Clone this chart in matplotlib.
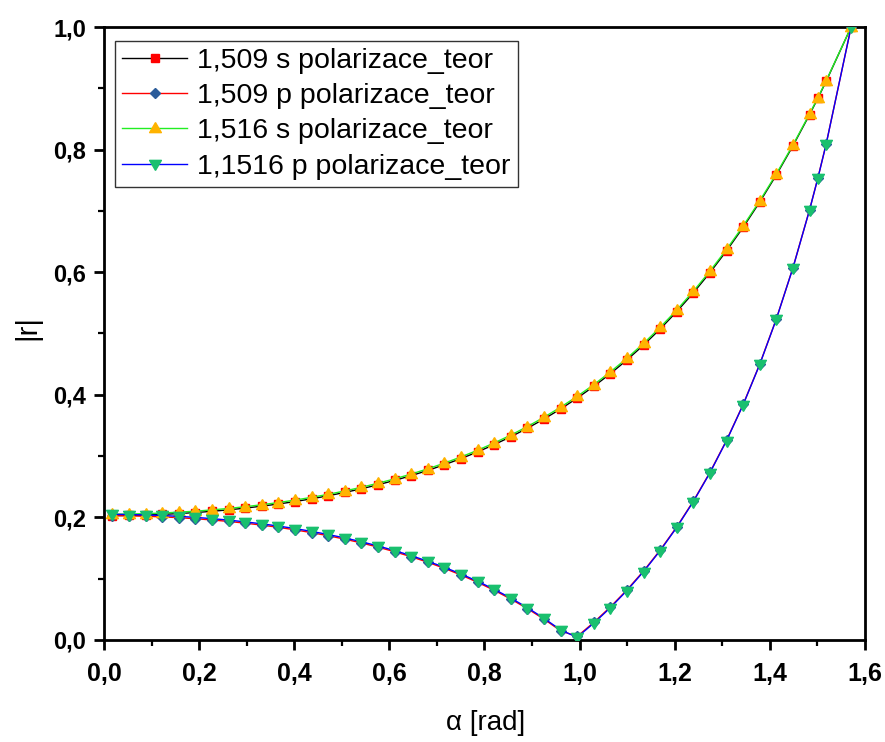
import matplotlib
matplotlib.use("Agg")
import matplotlib.pyplot as plt
from matplotlib.ticker import MultipleLocator, FuncFormatter

# incidence angle [rad]
alpha = [0.0175, 0.0524, 0.0873, 0.1222, 0.1571, 0.1920, 0.2269, 0.2618, 0.2967, 0.3316,
         0.3665, 0.4014, 0.4363, 0.4712, 0.5061, 0.5411, 0.5760, 0.6109, 0.6458, 0.6807,
         0.7156, 0.7505, 0.7854, 0.8203, 0.8552, 0.8901, 0.9250, 0.9599, 0.9948, 1.0297,
         1.0647, 1.0996, 1.1345, 1.1694, 1.2043, 1.2392, 1.2741, 1.3090, 1.3439, 1.3788,
         1.4137, 1.4486, 1.4835, 1.5010, 1.5184, 1.5708]

s_1509 = [0.2029, 0.2032, 0.2039, 0.2049, 0.2062, 0.2079, 0.2099, 0.2123, 0.2151, 0.2183,
          0.2218, 0.2258, 0.2303, 0.2352, 0.2407, 0.2466, 0.2532, 0.2603, 0.2681, 0.2766,
          0.2859, 0.2959, 0.3068, 0.3187, 0.3315, 0.3454, 0.3605, 0.3768, 0.3946, 0.4137,
          0.4345, 0.4569, 0.4812, 0.5074, 0.5358, 0.5664, 0.5994, 0.6350, 0.6733, 0.7146,
          0.7588, 0.8063, 0.8572, 0.8839, 0.9116, 1.0]

p_1509 = [0.2028, 0.2025, 0.2018, 0.2009, 0.1995, 0.1978, 0.1958, 0.1934, 0.1906, 0.1874,
          0.1838, 0.1797, 0.1751, 0.1701, 0.1645, 0.1583, 0.1515, 0.1440, 0.1358, 0.1268,
          0.1169, 0.1060, 0.0941, 0.0811, 0.0668, 0.0512, 0.0340, 0.0151, 0.0057, 0.0286,
          0.0539, 0.0818, 0.1126, 0.1467, 0.1846, 0.2267, 0.2736, 0.3260, 0.3845, 0.4502,
          0.5241, 0.6075, 0.7020, 0.7539, 0.8094, 1.0]

s_1516 = [0.2051, 0.2055, 0.2061, 0.2071, 0.2085, 0.2101, 0.2122, 0.2146, 0.2174, 0.2206,
          0.2242, 0.2282, 0.2327, 0.2376, 0.2431, 0.2491, 0.2557, 0.2628, 0.2707, 0.2792,
          0.2885, 0.2986, 0.3095, 0.3214, 0.3342, 0.3482, 0.3633, 0.3797, 0.3974, 0.4165,
          0.4373, 0.4597, 0.4839, 0.5101, 0.5384, 0.5690, 0.6019, 0.6373, 0.6755, 0.7165,
          0.7605, 0.8077, 0.8583, 0.8848, 0.9123, 1.0]

p_1516 = [0.2051, 0.2047, 0.2041, 0.2031, 0.2017, 0.2000, 0.1980, 0.1956, 0.1927, 0.1895,
          0.1859, 0.1818, 0.1772, 0.1721, 0.1665, 0.1603, 0.1534, 0.1459, 0.1376, 0.1285,
          0.1186, 0.1077, 0.0958, 0.0827, 0.0684, 0.0527, 0.0354, 0.0164, 0.0044, 0.0274,
          0.0527, 0.0807, 0.1116, 0.1458, 0.1838, 0.2259, 0.2729, 0.3253, 0.3839, 0.4497,
          0.5237, 0.6072, 0.7017, 0.7537, 0.8092, 1.0]

labels = ["1,509 s polarizace_teor", "1,509 p polarizace_teor",
          "1,516 s polarizace_teor", "1,1516 p polarizace_teor"]

plt.rcParams['font.family'] = ['Liberation Sans', 'DejaVu Sans']

fig = plt.figure(figsize=(8.85, 7.42), dpi=100)
ax = fig.add_axes([0.1175, 0.1375, 0.8599, 0.8261])

# centroid-centred triangles (like Origin)
tri_up = [(0, 1.0), (-1.0, -0.7), (1.0, -0.7), (0, 1.0)]
tri_dn = [(0, -1.0), (-1.0, 0.7), (1.0, 0.7), (0, -1.0)]

ax.plot(alpha, s_1509, color='black', lw=1.0, marker='s', ms=5.5,
        mfc='#ff0000', mec='#ff0000', label=labels[0], zorder=3)
ax.plot(alpha, p_1509, color='#ff0000', lw=1.0, marker='D', ms=5.0,
        mfc='#2b5c9a', mec='#2b5c9a', label=labels[1], zorder=3)
ax.plot(alpha, s_1516, color='#22ee22', lw=1.0, marker=tri_up, ms=8.5,
        mfc='#ffb300', mec='#ffb300', label=labels[2], zorder=4)
ax.plot(alpha, p_1516, color='#0000ff', lw=1.0, marker=tri_dn, ms=8.5,
        mfc='#19c06e', mec='#19c06e', label=labels[3], zorder=4)

ax.set_xlim(0.0, 1.6)
ax.set_ylim(0.0, 1.0)
ax.xaxis.set_major_locator(MultipleLocator(0.2))
ax.xaxis.set_minor_locator(MultipleLocator(0.1))
ax.yaxis.set_major_locator(MultipleLocator(0.2))
ax.yaxis.set_minor_locator(MultipleLocator(0.1))
fmt = FuncFormatter(lambda v, p: f"{v:.1f}".replace('.', ','))
ax.xaxis.set_major_formatter(fmt)
ax.yaxis.set_major_formatter(fmt)

for sp in ax.spines.values():
    sp.set_linewidth(2.0)
    sp.set_color('black')

ax.tick_params(axis='x', which='major', direction='out', length=7.5, width=2.0,
               top=False, pad=8)
ax.tick_params(axis='y', which='major', direction='out', length=7, width=2.0,
               right=False, pad=6)
ax.tick_params(which='minor', direction='out', length=4, width=1.6,
               top=False, right=False)
for lab in ax.get_xticklabels():
    lab.set_fontweight('bold')
    lab.set_fontsize(18)
    lab.set_family(['Liberation Sans Narrow', 'Liberation Sans'])
for lab in ax.get_yticklabels():
    lab.set_fontweight('bold')
    lab.set_fontsize(17)

ax.set_xlabel("α [rad]", fontsize=20)
ax.xaxis.set_label_coords(0.502, -0.135)
ax.xaxis.label.set_va('center')
ax.set_ylabel("|r|", fontsize=21)
ax.yaxis.set_label_coords(-0.101, 0.51)
ax.yaxis.label.set_va('center')

leg = ax.legend(loc='upper left', bbox_to_anchor=(0.0145, 0.977), borderaxespad=0,
                fontsize=20.5, frameon=True, fancybox=False, handlelength=2.28,
                handletextpad=0.35, labelspacing=0.32, borderpad=0.25)
leg.get_frame().set_edgecolor('black')
leg.get_frame().set_linewidth(1.0)

fig.savefig("out.png", dpi=100)
